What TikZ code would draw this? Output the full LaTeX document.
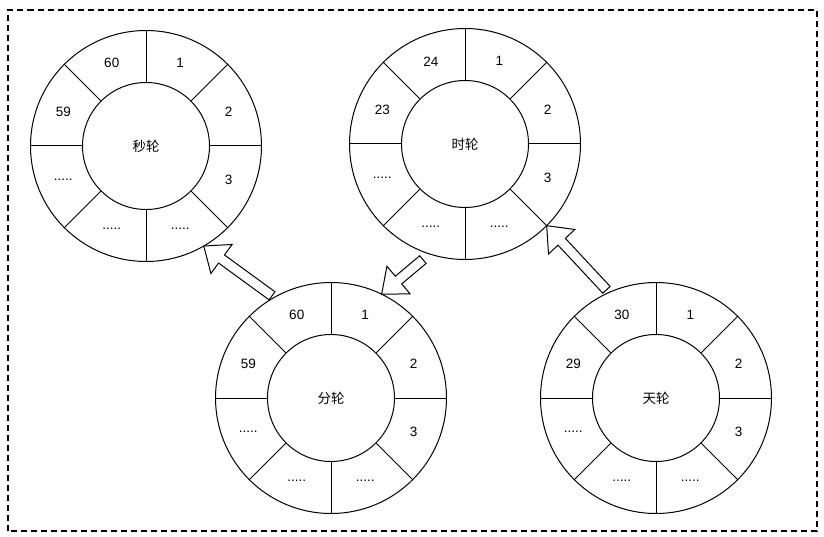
\documentclass[tikz,border=0pt]{standalone}
\usepackage{fontspec}
\setmainfont{Liberation Sans}
\newfontfamily\cjk{Noto Sans CJK SC}
\usetikzlibrary{calc}

\tikzset{
  hub/.style={circle, draw, line width=1pt, minimum size=127pt, inner sep=0pt, outer sep=0pt, font=\cjk\fontsize{13.5}{16}\selectfont},
  rim/.style={circle, draw, line width=1pt, minimum size=231pt, inner sep=0pt, outer sep=0pt},
  slot/.style={font=\fontsize{13.5}{16}\selectfont},
  spoke/.style={line width=1pt},
  frame/.style={line width=2pt, dash pattern=on 6pt off 4pt},
  blockarrow/.style={draw, line width=1pt, fill=white, line join=miter},
}

\newcommand{\etc}{.....}

% one wheel: name, centre, title, slot labels (clockwise from the top)
\newcommand{\wheel}[4]{%
  \node[rim] (#1-rim) at (#2) {};
  \node[hub] (#1) at (#2) {#3};
  \foreach \a in {0,45,...,315}
    \draw[spoke] (#1.\a) -- (#1-rim.\a);
  \foreach \lbl [count=\i] in {#4}
    \node[slot] at ($(#1.center)+({112.5-45*\i}:89.5pt)$) {\lbl};
}

% hollow block arrow from tail to tip
\newcommand{\hollowarrow}[2]{%
  \path[blockarrow] ($(#1)!5pt!90:(#2)$)
    -- ($(#2)!22pt!(#1)!5pt!90:(#2)$)
    -- ($(#2)!22pt!(#1)!18pt!90:(#2)$)
    -- (#2)
    -- ($(#2)!22pt!(#1)!18pt!-90:(#2)$)
    -- ($(#2)!22pt!(#1)!5pt!-90:(#2)$)
    -- ($(#1)!5pt!-90:(#2)$) -- cycle;
}

\begin{document}
\begin{tikzpicture}[x=1pt, y=1pt]

\useasboundingbox (0,0) rectangle (824,536);
\draw[frame] (8,5) rectangle (817,525.5);

\wheel{sec}{146,390}{秒轮}{1,2,3,\etc,\etc,\etc,59,60}
\wheel{hour}{465,392}{时轮}{1,2,3,\etc,\etc,\etc,23,24}
\wheel{min}{331,138}{分轮}{1,2,3,\etc,\etc,\etc,59,60}
\wheel{day}{656,138}{天轮}{1,2,3,\etc,\etc,\etc,29,30}

\coordinate (minout) at ($(min.center)+(120:118pt)$);
\coordinate (hourout) at ($(hour.center)+(-110:123pt)$);
\coordinate (dayout) at ($(day.center)+(114.6:119pt)$);

\hollowarrow{minout}{sec-rim.-60}
\hollowarrow{hourout}{min-rim.64}
\hollowarrow{dayout}{hour-rim.-45}

\end{tikzpicture}
\end{document}
